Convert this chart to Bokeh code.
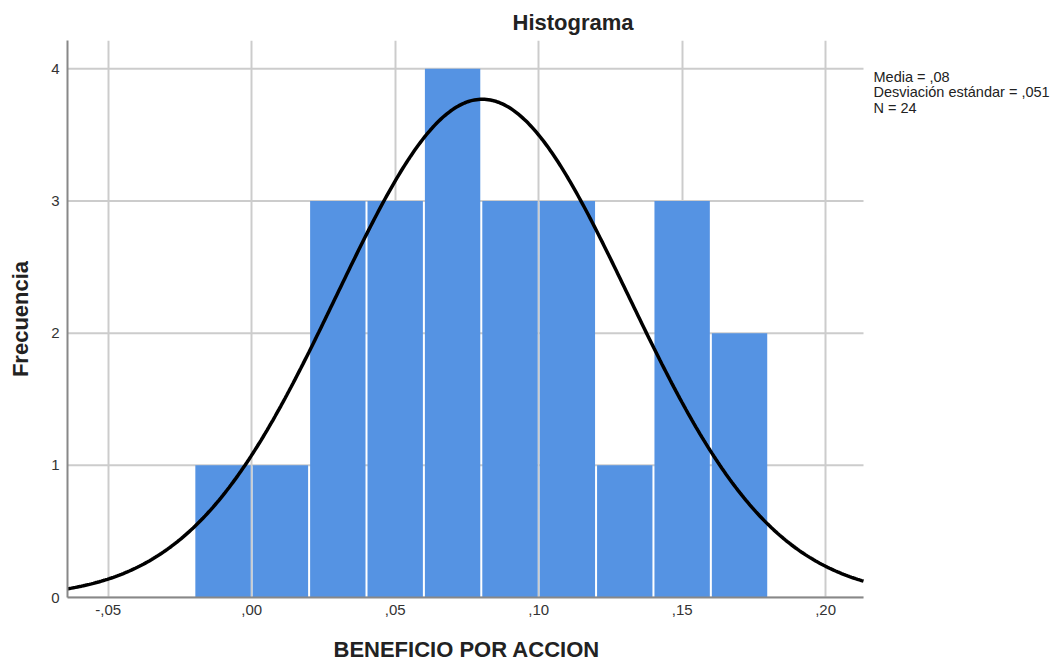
import numpy as np
from bokeh.plotting import figure
from bokeh.models import FixedTicker, Range1d, ColumnDataSource, Title
from bokeh.core.properties import value
from bokeh.embed import file_html
from bokeh.resources import INLINE

# Data
bin_left = [-0.02, 0.00, 0.02, 0.04, 0.06, 0.08, 0.10, 0.12, 0.14, 0.16]
bin_width = 0.02
counts = [1, 1, 3, 3, 4, 3, 3, 1, 3, 2]
mean_val = 0.0804
sd_val = 0.0508
n_val = 24
x_ticks = [-0.05, 0.00, 0.05, 0.10, 0.15, 0.20]
x_tick_labels = ["-,05", ",00", ",05", ",10", ",15", ",20"]
y_ticks = [0, 1, 2, 3, 4]
stats_lines = ["Media = ,08", "Desviación estándar = ,051", "N = 24"]

FONT = "Liberation Sans"
X0, X1 = -0.0642, 0.2132        # plotted axis span
px_per_unit = 796 / (X1 - X0)
X_EXT = X0 + 990 / px_per_unit  # frame extended to the right edge for the stats text
Y1 = 4.214
py_per_unit = 557 / Y1

p = figure(width=1057, height=664, frame_width=990, frame_height=557,
           min_border_left=67, min_border_right=0, min_border_top=40, min_border_bottom=67,
           x_range=Range1d(X0, X_EXT), y_range=Range1d(0, Y1),
           output_backend="svg", toolbar_location=None, background_fill_color="white",
           border_fill_color="white", outline_line_color=None)

# Title
p.title.text = "Histograma"
p.title.align = "left"
p.title.offset = 445
p.title.text_font = FONT
p.title.text_font_size = "22px"
p.title.text_font_style = "bold"
p.title.text_color = "#222222"
p.title.standoff = 11

# Horizontal grid lines, limited to the axis span
hg = p.segment(x0=[X0] * len(y_ticks), x1=[X1] * len(y_ticks), y0=y_ticks, y1=y_ticks,
               line_color="#cccccc", line_width=2)
hg.level = "underlay"

# Bars
gap = 0.0007
src = ColumnDataSource(dict(
    left=[b + gap / 2 for b in bin_left],
    right=[b + bin_width - gap / 2 for b in bin_left],
    top=counts,
    bottom=[0] * len(counts),
))
p.quad(left="left", right="right", top="top", bottom="bottom", source=src,
       fill_color="#5593E3", line_color=None)

# Normal curve
xs = np.linspace(X0, X1, 400)
ys = n_val * bin_width / (sd_val * np.sqrt(2 * np.pi)) * np.exp(-0.5 * ((xs - mean_val) / sd_val) ** 2)
p.line(xs, ys, line_color="black", line_width=3.5)

# Axes
p.xaxis.ticker = FixedTicker(ticks=x_ticks)
p.xaxis.major_label_overrides = {t: l for t, l in zip(x_ticks, x_tick_labels)}
p.xaxis.bounds = (X0, X1)
p.yaxis.ticker = FixedTicker(ticks=y_ticks)
for ax in (p.xaxis[0], p.yaxis[0]):
    ax.major_tick_out = 0
    ax.major_tick_in = 0
    ax.minor_tick_out = 0
    ax.minor_tick_in = 0
    ax.axis_line_color = "#888888"
    ax.axis_line_width = 2
    ax.major_label_text_font = FONT
    ax.major_label_text_font_size = "15px"
    ax.major_label_text_color = "#333333"
    ax.axis_label_text_font = FONT
    ax.axis_label_text_font_size = "22px"
    ax.axis_label_text_font_style = "bold"
    ax.axis_label_text_color = "#222222"

p.xaxis.major_label_standoff = 7
p.yaxis.axis_label = "Frecuencia"
p.yaxis.major_label_standoff = 8
p.yaxis.axis_label_standoff = 15

# x-axis title, centred under the axis span
p.add_layout(Title(text="BENEFICIO POR ACCION", align="left", offset=266,
                   text_font=FONT, text_font_size="22px", text_font_style="bold",
                   text_color="#222222", standoff=34), "below")

p.xgrid.ticker = FixedTicker(ticks=x_ticks)
p.xgrid.grid_line_color = "#cccccc"
p.xgrid.grid_line_width = 2
p.ygrid.visible = False

# Stats text
line_step = 15.5 / py_per_unit
tx = X1 + 10 / px_per_unit
ty0 = 4.001
p.text(x=[tx] * len(stats_lines), y=[ty0 - i * line_step for i in range(len(stats_lines))],
       text=stats_lines, text_baseline="top", text_align="left",
       text_font=value(FONT), text_font_size="14.5px", text_color="#222222")

open("out.html", "w").write(file_html(p, INLINE))
